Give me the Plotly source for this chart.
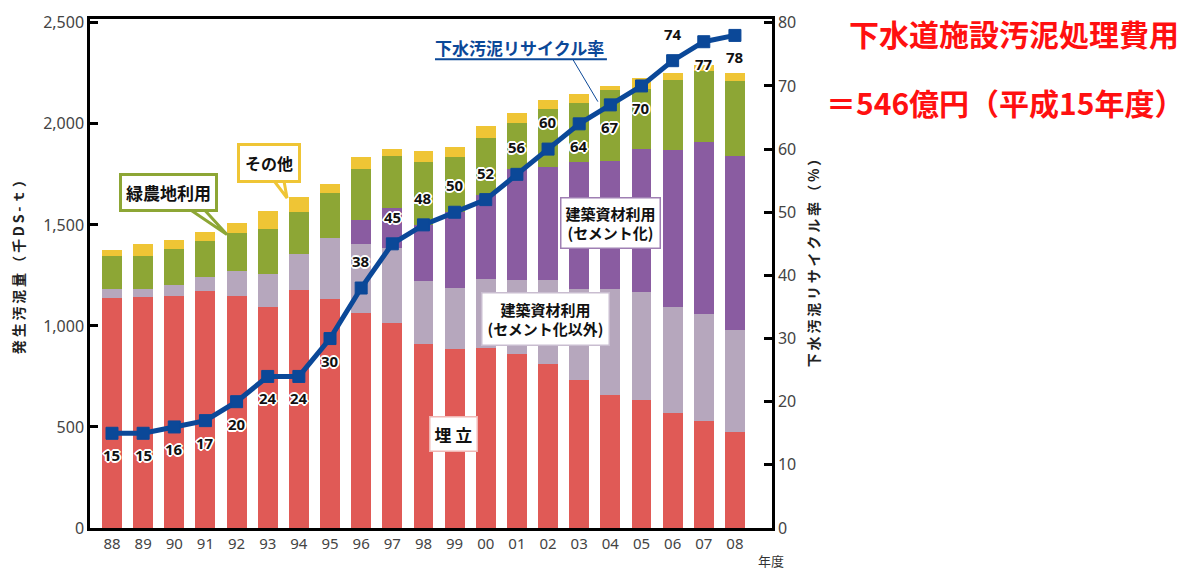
import plotly.graph_objects as go

years = ["88", "89", "90", "91", "92", "93", "94", "95", "96", "97", "98",
         "99", "00", "01", "02", "03", "04", "05", "06", "07", "08"]
landfill = [1137, 1144, 1149, 1171, 1149, 1095, 1176, 1135, 1066, 1014, 911,
            884, 892, 863, 810, 730, 659, 635, 570, 530, 474]
building_other = [47, 40, 55, 73, 124, 162, 182, 301, 341, 373, 311,
                  305, 341, 362, 419, 454, 525, 533, 525, 529, 507]
cement = [0, 0, 0, 0, 0, 0, 0, 0, 115, 195, 278,
          377, 414, 552, 560, 629, 630, 707, 775, 851, 861]
green_use = [163, 163, 175, 176, 188, 224, 205, 222, 255, 260, 310,
             268, 284, 227, 284, 289, 353, 300, 346, 350, 369]
other = [29, 60, 44, 43, 48, 90, 73, 43, 60, 33, 56,
         53, 57, 49, 45, 44, 20, 50, 37, 32, 42]
recycle_rate = [15, 15, 16, 17, 20, 24, 24, 30, 38, 45, 48,
                50, 52, 56, 60, 64, 67, 70, 74, 77, 78]
label_side = ["b", "b", "b", "b", "b", "b", "b", "b", "a", "a", "a",
              "a", "a", "a", "a", "b", "b", "b", "a", "b", "b"]

JP = "Noto Sans CJK JP"
NUM = "Noto Sans"
x = list(range(len(years)))

RED = "#E05A56"
LAV = "#B6A7BD"
PUR = "#8A5CA1"
GRN = "#8DA635"
YEL = "#EFC535"
NAVY = "#0B4898"

fig = go.Figure()
series = [
    ("埋立", landfill, RED),
    ("建築資材利用（セメント化以外）", building_other, LAV),
    ("建築資材利用（セメント化）", cement, PUR),
    ("緑農地利用", green_use, GRN),
    ("その他", other, YEL),
]
for name, vals, col in series:
    fig.add_trace(go.Bar(x=x, y=vals, name=name, width=0.64,
                         marker=dict(color=col, line=dict(width=0))))

fig.add_trace(go.Scatter(
    x=x, y=recycle_rate, yaxis="y2", mode="lines+markers",
    name="下水汚泥リサイクル率",
    line=dict(color=NAVY, width=5),
    marker=dict(symbol="square", size=12, color=NAVY,
                line=dict(color=NAVY, width=1)),
))

halo = ("1px 1px 0 #fff, -1px -1px 0 #fff, 1px -1px 0 #fff, -1px 1px 0 #fff, "
        "0 2px 0 #fff, 2px 0 0 #fff, -2px 0 0 #fff, 0 -2px 0 #fff")

annotations = []
for i, (v, s) in enumerate(zip(recycle_rate, label_side)):
    annotations.append(dict(
        x=i, y=v, xref="x", yref="y2", text=str(v), showarrow=False,
        xanchor="center", yanchor="middle",
        yshift=27 if s == "a" else -22,
        font=dict(family=NUM, size=15, color="#111", weight="bold", shadow=halo),
    ))

# callout boxes
def box(text, xx, yy, border, size=16, bw=3, pad=4):
    annotations.append(dict(
        x=xx, y=yy, xref="x", yref="y", text=text, showarrow=False,
        xanchor="center", yanchor="middle",
        bgcolor="white", bordercolor=border, borderwidth=bw, borderpad=pad,
        font=dict(family=JP, size=size, color="#111", weight="bold"),
        align="center",
    ))

box("緑農地利用", 1.80, 1662, GRN, size=17, pad=4)
box("その他", 5.04, 1808, YEL, size=16, pad=5)
box("建築資材利用<br>(セメント化)", 16.02, 1511, "#9F7FB3", size=15, bw=1.5, pad=4)
box("建築資材利用<br>(セメント化以外)", 13.93, 1033, "#C9BDD0", size=15, bw=1.5, pad=5)
box("埋 立", 10.95, 463, "#F0B7B4", size=17, bw=1.5, pad=4)

# recycle-rate title
annotations.append(dict(
    x=13.07, y=2378, xref="x", yref="y", text="下水汚泥リサイクル率",
    xanchor="center", yanchor="middle",
    showarrow=False, font=dict(family=JP, size=17, color=NAVY, weight="bold"),
))

# axis titles & side notes (paper coords)
def px(xp):
    return (xp - 90) / 682.0

def py(yp):
    return (528 - yp) / 517.0

def note(text, xp, yp, font, angle=0):
    annotations.append(dict(
        x=px(xp), y=py(yp), xref="paper", yref="paper", text=text,
        xanchor="center", yanchor="middle", textangle=angle,
        showarrow=False, font=font,
    ))

ts = "\u2009"
note(ts.join("発生汚泥量") + " " + ts.join("（千DS-ｔ）"), 18, 260,
     dict(family=JP, size=14, color="#222", weight="bold"), -90)
note(ts.join("下水汚泥リサイクル率") + " " + ts.join("（%）"), 813, 256,
     dict(family=JP, size=14, color="#222", weight="bold"), -90)
note("年度", 771, 561, dict(family=JP, size=13, color="#333"))
note("下水道施設汚泥処理費用", 1014, 25,
     dict(family=JP, size=30, color="#FF1010", weight="bold"))
note("＝546億円（平成15年度）", 1005, 95,
     dict(family=JP, size=30, color="#FF1010", weight="bold"))

shapes = [
    # callout tails
    dict(type="path", xref="x", yref="y", layer="above",
         path="M 2.18,1610 L 2.76,1610 L 3.69,1452 Z",
         fillcolor="white", line=dict(color=GRN, width=3)),
    dict(type="path", xref="x", yref="y", layer="above",
         path="M 5.07,1745 L 5.49,1745 L 5.62,1633 Z",
         fillcolor="white", line=dict(color=YEL, width=3)),
    # underline and pointer of line title
    dict(type="line", xref="x", yref="y", layer="above",
         x0=10.37, x1=15.89, y0=2320, y1=2320, line=dict(color=NAVY, width=2)),
    dict(type="line", xref="x", yref="y", layer="above",
         x0=14.80, x1=15.60, y0=2318, y1=2110, line=dict(color=NAVY, width=1)),
]

fig.update_layout(
    width=1201, height=571,
    margin=dict(l=90, r=429, t=11, b=43),
    paper_bgcolor="white", plot_bgcolor="white",
    barmode="stack", showlegend=False,
    annotations=annotations, shapes=shapes,
    xaxis=dict(range=[-0.706, 21.19], tickvals=x, ticktext=years, ticks="",
               showline=True, linecolor="black", linewidth=2.5, mirror=True,
               showgrid=False, zeroline=False,
               tickfont=dict(family=NUM, size=15, color="#444")),
    yaxis=dict(range=[0, 2519], tickvals=[0, 500, 1000, 1500, 2000, 2500],
               tickformat=",d", ticks="inside", ticklen=8, tickwidth=2.5,
               tickcolor="black", showline=True, linecolor="black",
               linewidth=2.5, showgrid=False, zeroline=False,
               tickfont=dict(family=NUM, size=16, color="#444")),
    yaxis2=dict(range=[0, 80.6], tickvals=list(range(0, 81, 10)),
                overlaying="y", side="right", ticks="inside", ticklen=8,
                tickwidth=2.5, tickcolor="black", showline=True,
                linecolor="black", linewidth=2.5, showgrid=False,
                zeroline=False,
                tickfont=dict(family=NUM, size=16, color="#444")),
)

fig.write_html("out.html")
